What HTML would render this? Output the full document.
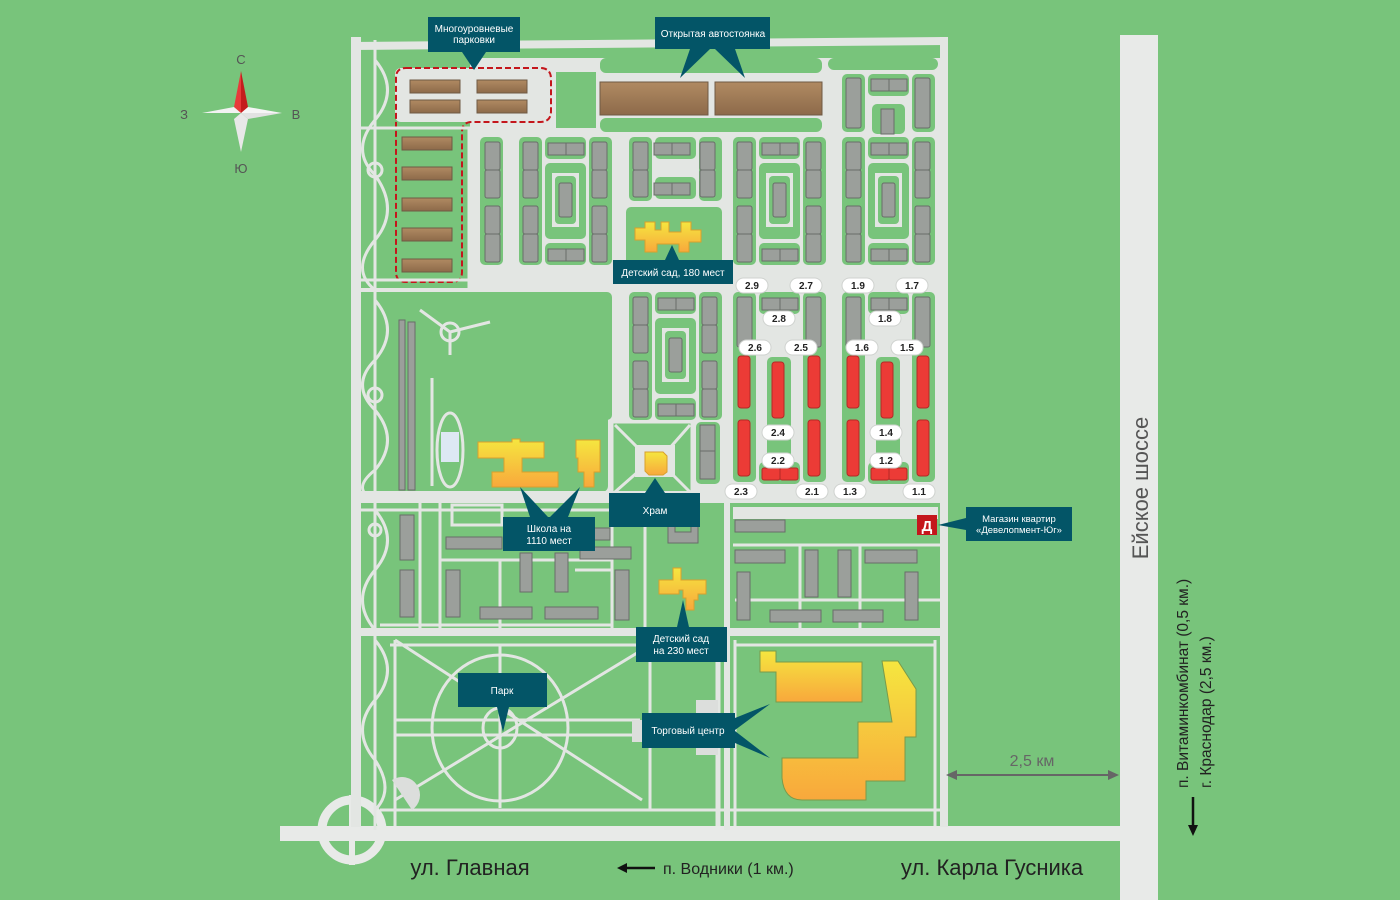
<!DOCTYPE html>
<html><head><meta charset="utf-8">
<style>
html,body{margin:0;padding:0;background:#78c47b;}
svg{display:block;}
text{font-family:"Liberation Sans",sans-serif;}
</style></head>
<body>
<svg width="1400" height="900" viewBox="0 0 1400 900" xmlns="http://www.w3.org/2000/svg">
<defs>
<linearGradient id="yel" x1="0" y1="0" x2="0" y2="1"><stop offset="0" stop-color="#f5e63f"/><stop offset="1" stop-color="#f8a83c"/></linearGradient>
<linearGradient id="brn" x1="0" y1="0" x2="0" y2="1"><stop offset="0" stop-color="#b08a62"/><stop offset="1" stop-color="#8d6a4a"/></linearGradient>
<g id="modB">
 <rect x="0" y="0" width="23" height="128" rx="5" fill="#78c47b"/>
 <rect x="4" y="5" width="15" height="28" rx="2" class="h"/><rect x="4" y="33" width="15" height="28" rx="2" class="h"/>
 <rect x="4" y="69" width="15" height="28" rx="2" class="h"/><rect x="4" y="97" width="15" height="28" rx="2" class="h"/>
 <rect x="26" y="0" width="41" height="22" rx="5" fill="#78c47b"/>
 <rect x="29" y="6" width="18" height="12" class="h"/><rect x="47" y="6" width="18" height="12" class="h"/>
 <rect x="26" y="26" width="41" height="76" rx="5" fill="#78c47b"/>
 <rect x="33" y="36" width="27" height="54" fill="#e3e6e3"/>
 <rect x="36" y="39" width="21" height="48" rx="4" fill="#78c47b"/>
 <rect x="40" y="46" width="13" height="34" rx="2" class="h"/>
 <rect x="26" y="106" width="41" height="22" rx="5" fill="#78c47b"/>
 <rect x="29" y="112" width="18" height="12" class="h"/><rect x="47" y="112" width="18" height="12" class="h"/>
 <rect x="70" y="0" width="23" height="128" rx="5" fill="#78c47b"/>
 <rect x="73" y="5" width="15" height="28" rx="2" class="h"/><rect x="73" y="33" width="15" height="28" rx="2" class="h"/>
 <rect x="73" y="69" width="15" height="28" rx="2" class="h"/><rect x="73" y="97" width="15" height="28" rx="2" class="h"/>
</g>
<g id="colA">
 <rect x="0" y="0" width="23" height="128" rx="5" fill="#78c47b"/>
 <rect x="5" y="5" width="15" height="28" rx="2" class="h"/><rect x="5" y="33" width="15" height="28" rx="2" class="h"/>
 <rect x="5" y="69" width="15" height="28" rx="2" class="h"/><rect x="5" y="97" width="15" height="28" rx="2" class="h"/>
</g>
<g id="redQ">
 <rect x="0" y="0" width="23" height="128" rx="5" fill="#78c47b"/>
 <rect x="4" y="5" width="15" height="50" rx="2" class="h"/>
 <rect x="26" y="0" width="41" height="22" rx="5" fill="#78c47b"/>
 <rect x="29" y="6" width="18" height="12" class="h"/><rect x="47" y="6" width="18" height="12" class="h"/>
 <rect x="70" y="0" width="23" height="128" rx="5" fill="#78c47b"/>
 <rect x="73" y="5" width="15" height="50" rx="2" class="h"/>
 <rect x="0" y="60" width="23" height="130" rx="5" fill="#78c47b"/>
 <rect x="70" y="60" width="23" height="130" rx="5" fill="#78c47b"/>
 <rect x="34" y="65" width="24" height="125" rx="5" fill="#78c47b"/>
 <rect x="26" y="170" width="41" height="22" rx="5" fill="#78c47b"/>
 <rect x="5" y="64" width="12" height="52" rx="3" class="r"/>
 <rect x="5" y="128" width="12" height="56" rx="3" class="r"/>
 <rect x="39" y="70" width="12" height="56" rx="3" class="r"/>
 <rect x="75" y="64" width="12" height="52" rx="3" class="r"/>
 <rect x="75" y="128" width="12" height="56" rx="3" class="r"/>
 <rect x="29" y="176" width="18" height="12" rx="2" class="r"/><rect x="47" y="176" width="18" height="12" rx="2" class="r"/>
</g>
</defs>
<style>.h{fill:#9b9f9b;stroke:#686d68;stroke-width:1}.r{fill:#ec3b36;stroke:#b42a26;stroke-width:1}.lab{fill:#035567}.wt{fill:#fff;font-size:10px;text-anchor:middle}.pl{fill:#fff;stroke:#cfd2cf}.pt{font-size:10px;font-weight:bold;text-anchor:middle;fill:#222}</style>

<rect width="1400" height="900" fill="#78c47b"/>

<rect x="1120" y="35" width="38" height="865" fill="#e8eae8"/>
<rect x="280" y="826" width="840" height="15" fill="#e8eae8"/>
<circle cx="352" cy="830" r="30" fill="none" stroke="#e8eae8" stroke-width="9"/>
<rect x="349" y="795" width="6" height="70" fill="#e8eae8"/>
<rect x="351" y="37" width="10" height="790" fill="#e3e6e3"/>
<rect x="940" y="37" width="8" height="790" fill="#e3e6e3"/>
<polygon points="351,42 945,37 945,45 351,50" fill="#e3e6e3"/>

<rect x="470" y="128" width="470" height="372" fill="#e3e6e3"/>
<rect x="470" y="58" width="470" height="70" fill="#e3e6e3"/>
<rect x="600" y="58" width="222" height="15" rx="6" fill="#78c47b"/>
<rect x="828" y="58" width="110" height="12" rx="6" fill="#78c47b"/>
<rect x="600" y="118" width="222" height="14" rx="6" fill="#78c47b"/>
<rect x="556" y="72" width="40" height="56" fill="#78c47b"/>
<rect x="834" y="72" width="104" height="56" fill="#e3e6e3"/>
<rect x="600" y="82" width="108" height="33" fill="url(#brn)" stroke="#6f5a44"/>
<rect x="715" y="82" width="107" height="33" fill="url(#brn)" stroke="#6f5a44"/>

<g transform="translate(842,74)">
 <rect x="0" y="0" width="23" height="58" rx="5" fill="#78c47b"/>
 <rect x="4" y="4" width="15" height="50" rx="2" class="h"/>
 <rect x="26" y="0" width="41" height="22" rx="5" fill="#78c47b"/>
 <rect x="29" y="5" width="18" height="12" class="h"/><rect x="47" y="5" width="18" height="12" class="h"/>
 <rect x="30" y="30" width="33" height="30" rx="5" fill="#78c47b"/>
 <rect x="39" y="35" width="13" height="25" class="h"/>
 <rect x="70" y="0" width="23" height="58" rx="5" fill="#78c47b"/>
 <rect x="73" y="4" width="15" height="50" rx="2" class="h"/>
</g>

<use href="#colA" x="480" y="137"/>
<use href="#modB" x="519" y="137"/>
<use href="#modB" x="733" y="137"/>
<use href="#modB" x="842" y="137"/>
<g transform="translate(629,137)">
 <rect x="0" y="0" width="23" height="64" rx="5" fill="#78c47b"/>
 <rect x="4" y="5" width="15" height="28" rx="2" class="h"/><rect x="4" y="33" width="15" height="27" rx="2" class="h"/>
 <rect x="26" y="0" width="41" height="22" rx="5" fill="#78c47b"/>
 <rect x="25" y="6" width="18" height="12" class="h"/><rect x="43" y="6" width="18" height="12" class="h"/>
 <rect x="26" y="40" width="41" height="22" rx="5" fill="#78c47b"/>
 <rect x="25" y="46" width="18" height="12" class="h"/><rect x="43" y="46" width="18" height="12" class="h"/>
 <rect x="70" y="0" width="23" height="64" rx="5" fill="#78c47b"/>
 <rect x="71" y="5" width="15" height="28" rx="2" class="h"/><rect x="71" y="33" width="15" height="27" rx="2" class="h"/>
 <rect x="-3" y="70" width="96" height="60" rx="5" fill="#78c47b"/>
</g>
<path d="M645,222 h10 v8 h6 v-8 h8 v10 h12 v-10 h10 v8 h10 v12 h-12 v10 h-10 v-8 h-22 v8 h-12 v-12 h-10 v-12 h10z" fill="url(#yel)" stroke="#d9a02c"/>

<use href="#colA" x="480" y="292"/>
<use href="#modB" x="519" y="292"/>
<use href="#modB" x="629" y="292"/>
<use href="#redQ" x="733" y="292"/>
<use href="#redQ" x="842" y="292"/>
<rect x="696" y="422" width="24" height="62" rx="5" fill="#78c47b"/>
<rect x="700" y="425" width="15" height="26" class="h"/><rect x="700" y="451" width="15" height="28" class="h"/>

<rect x="362" y="55" width="108" height="235" fill="#78c47b"/>
<rect x="362" y="292" width="246" height="200" rx="6" fill="#78c47b"/>
<rect x="612" y="422" width="80" height="72" fill="#78c47b"/>
<rect x="612" y="422" width="80" height="72" fill="none" stroke="#e3e6e3" stroke-width="3"/>
<path d="M615,425 L640,450 M690,425 L668,450 M615,492 L640,470 M690,492 L668,470" stroke="#e3e6e3" stroke-width="3"/>
<rect x="635" y="445" width="40" height="32" fill="#e3e6e3"/>
<path d="M645,452 h18 l4,4 v16 l-4,3 h-14 l-4,-4z" fill="url(#yel)" stroke="#d9a02c"/>

<rect x="395" y="68" width="158" height="54" rx="6" fill="#e3e6e3"/>
<rect x="410" y="80" width="50" height="13" fill="url(#brn)" stroke="#6f5a44"/>
<rect x="410" y="100" width="50" height="13" fill="url(#brn)" stroke="#6f5a44"/>
<rect x="477" y="80" width="50" height="13" fill="url(#brn)" stroke="#6f5a44"/>
<rect x="477" y="100" width="50" height="13" fill="url(#brn)" stroke="#6f5a44"/>
<rect x="402" y="137" width="50" height="13" fill="url(#brn)" stroke="#6f5a44"/>
<rect x="402" y="167" width="50" height="13" fill="url(#brn)" stroke="#6f5a44"/>
<rect x="402" y="198" width="50" height="13" fill="url(#brn)" stroke="#6f5a44"/>
<rect x="402" y="228" width="50" height="13" fill="url(#brn)" stroke="#6f5a44"/>
<rect x="402" y="259" width="50" height="13" fill="url(#brn)" stroke="#6f5a44"/>
<path d="M406,68 H540 Q551,68 551,79 V111 Q551,122 540,122 H472 Q462,122 462,132 V272 Q462,282 452,282 H406 Q396,282 396,272 V78 Q396,68 406,68Z" fill="none" stroke="#c4161c" stroke-width="2" stroke-dasharray="6,3"/>

<g fill="none" stroke="#e3e6e3" stroke-width="3">
 <line x1="375" y1="40" x2="375" y2="830"/>
 <path d="M375,60 Q400,90 375,120 Q350,150 375,175 Q400,210 375,240 Q350,270 375,290"/>
 <path d="M375,300 Q400,330 375,360 Q350,385 375,410 Q400,440 375,470 Q350,490 375,500"/>
 <path d="M375,510 Q400,540 375,570 Q350,600 375,630"/>
 <circle cx="375" cy="170" r="7"/><circle cx="375" cy="395" r="7"/><circle cx="375" cy="530" r="6"/>
 <line x1="352" y1="290" x2="945" y2="290" stroke-width="4"/>
 <line x1="352" y1="280" x2="470" y2="280"/>
 <line x1="352" y1="497" x2="945" y2="497" stroke-width="12"/>
 <line x1="352" y1="632" x2="945" y2="632" stroke-width="8"/>
 <line x1="352" y1="128" x2="470" y2="128"/>
 <line x1="470" y1="128" x2="470" y2="290" stroke-width="5"/>
 <line x1="612" y1="500" x2="612" y2="630" stroke-width="3"/>
 <line x1="727" y1="500" x2="727" y2="830" stroke-width="6"/>
 <line x1="432" y1="378" x2="432" y2="486"/>
 <ellipse cx="450" cy="450" rx="13" ry="37"/>
 <circle cx="450" cy="332" r="9"/>
 <path d="M420,310 L450,332 L490,322 M450,332 L450,355"/>
</g>
<rect x="441" y="432" width="18" height="30" fill="#dde8f4"/>
<rect x="399" y="320" width="6" height="170" class="h"/>
<rect x="408" y="322" width="7" height="168" class="h"/>

<path d="M478,442 h34 v-3 h8 v3 h24 v16 h-22 v14 h36 v15 h-66 v-15 h12 v-14 h-26z" fill="url(#yel)" stroke="#d9a02c"/>
<path d="M576,440 h24 v32 h-6 v15 h-10 v-15 h-6 v-14 h-2z" fill="url(#yel)" stroke="#d9a02c"/>

<g fill="none" stroke="#e3e6e3" stroke-width="3">
 <line x1="352" y1="510" x2="612" y2="510"/>
 <line x1="420" y1="503" x2="420" y2="630"/>
 <line x1="440" y1="560" x2="612" y2="560"/>
 <line x1="440" y1="503" x2="440" y2="630"/>
 <line x1="500" y1="560" x2="500" y2="630"/>
 <line x1="380" y1="625" x2="612" y2="625"/>
 <line x1="575" y1="570" x2="612" y2="570"/>
 <line x1="645" y1="503" x2="645" y2="630"/>
 <line x1="733" y1="545" x2="940" y2="545"/>
 <line x1="800" y1="545" x2="800" y2="630"/>
 <line x1="860" y1="545" x2="860" y2="630"/>
 <line x1="735" y1="600" x2="940" y2="600"/>
 <rect x="452" y="505" width="50" height="20"/>
</g>
<rect x="733" y="507" width="205" height="12" fill="#e3e6e3"/>
<rect x="400" y="515" width="14" height="45" class="h"/>
<rect x="400" y="570" width="14" height="47" class="h"/>
<rect x="446" y="537" width="56" height="12" class="h"/>
<rect x="446" y="570" width="14" height="47" class="h"/>
<rect x="480" y="607" width="52" height="12" class="h"/>
<rect x="520" y="553" width="12" height="39" class="h"/>
<rect x="545" y="607" width="53" height="12" class="h"/>
<rect x="555" y="553" width="13" height="39" class="h"/>
<rect x="580" y="547" width="51" height="12" class="h"/>
<rect x="580" y="528" width="30" height="12" class="h"/>
<rect x="615" y="570" width="14" height="50" class="h"/>
<path d="M668,522 h30 v21 h-30z M675,522 v10 h16 v-10z" fill="#9b9f9b" stroke="#686d68" fill-rule="evenodd"/>
<path d="M673,568 h8 v12 h25 v14 h-8 v6 h-4 v10 h-8 v-12 h-3 v-8 h-4 v4 h-20 v-14 h14z" fill="url(#yel)" stroke="#d9a02c"/>
<rect x="735" y="520" width="50" height="12" class="h"/>
<rect x="735" y="550" width="50" height="13" class="h"/>
<rect x="737" y="572" width="13" height="48" class="h"/>
<rect x="770" y="610" width="51" height="12" class="h"/>
<rect x="805" y="550" width="13" height="47" class="h"/>
<rect x="838" y="550" width="13" height="47" class="h"/>
<rect x="833" y="610" width="50" height="12" class="h"/>
<rect x="865" y="550" width="52" height="13" class="h"/>
<rect x="905" y="572" width="13" height="48" class="h"/>

<g fill="none" stroke="#e3e6e3" stroke-width="3">
 <ellipse cx="500" cy="728" rx="68" ry="73"/>
 <ellipse cx="500" cy="728" rx="17" ry="20"/>
 <line x1="395" y1="640" x2="642" y2="800"/>
 <line x1="395" y1="800" x2="642" y2="650"/>
 <line x1="500" y1="645" x2="500" y2="808"/>
 <line x1="395" y1="720" x2="640" y2="720"/>
 <line x1="395" y1="735" x2="640" y2="735"/>
 <line x1="390" y1="645" x2="640" y2="645"/>
 <line x1="380" y1="810" x2="940" y2="810"/>
 <line x1="395" y1="640" x2="395" y2="826"/>
 <line x1="650" y1="640" x2="650" y2="810"/>
 <line x1="718" y1="640" x2="718" y2="826" stroke-width="5"/>
 <line x1="735" y1="645" x2="935" y2="645"/>
 <line x1="935" y1="640" x2="935" y2="826"/>
 <line x1="735" y1="640" x2="735" y2="826"/>
 <path d="M375,640 Q400,670 375,700 Q350,730 375,760 Q395,790 375,810"/>
</g>
<path d="M392,780 a18,18 0 0 1 20,30 z" fill="#dcdedc"/>
<rect x="632" y="720" width="12" height="22" fill="#dcdedc"/>
<rect x="696" y="700" width="22" height="55" fill="#dcdedc"/>

<path d="M760,651 h16 v11 h86 v40 h-86 v-30 h-16z" fill="url(#yel)" stroke="#7a9a4a"/>
<path d="M882,661 h16 l18,28 v48 h-11 v44 h-39 v19 h-64 q-18,0 -20,-22 v-20 h76 v-36 h34z" fill="url(#yel)" stroke="#7a9a4a"/>

<g class="lab">
 <rect x="428" y="17" width="92" height="35"/><polygon points="462,52 486,52 474,70"/>
 <rect x="655" y="17" width="115" height="32"/><polygon points="690,49 710,49 680,78"/><polygon points="715,49 735,49 745,78"/>
 <rect x="613" y="260" width="120" height="24"/><polygon points="665,260 679,260 672,245"/>
 <rect x="503" y="517" width="92" height="34"/><polygon points="530,517 548,517 520,487"/><polygon points="550,517 568,517 580,487"/>
 <rect x="609" y="493" width="91" height="34"/><polygon points="645,493 665,493 655,478"/>
 <rect x="636" y="627" width="91" height="35"/><polygon points="677,627 689,627 683,600"/>
 <rect x="458" y="673" width="89" height="34"/><polygon points="497,707 509,707 503,732"/>
 <rect x="642" y="713" width="93" height="35"/><polygon points="735,718 735,730 770,704"/><polygon points="735,731 735,743 770,758"/>
 <rect x="966" y="507" width="106" height="34"/><polygon points="966,518 966,530 938,525"/>
</g>
<g class="wt">
 <text x="474" y="32">Многоуровневые</text><text x="474" y="43">парковки</text>
 <text x="713" y="37">Открытая автостоянка</text>
 <text x="673" y="276">Детский сад, 180 мест</text>
 <text x="549" y="532">Школа на</text><text x="549" y="544">1110 мест</text>
 <text x="655" y="514">Храм</text>
 <text x="681" y="642">Детский сад</text><text x="681" y="654">на 230 мест</text>
 <text x="502" y="694">Парк</text>
 <text x="688" y="734">Торговый центр</text>
 <text x="1019" y="522" font-size="9.5">Магазин квартир</text><text x="1019" y="533" font-size="9.5">«Девелопмент-Юг»</text>
</g>
<rect x="917" y="515" width="20" height="20" fill="#c4161c"/>
<text x="927" y="531" font-size="15" font-weight="bold" fill="#fff" text-anchor="middle">Д</text>

<g>
 <rect x="736" y="278" width="32" height="15" rx="7.5" class="pl"/><text x="752" y="289" class="pt">2.9</text>
 <rect x="790" y="278" width="32" height="15" rx="7.5" class="pl"/><text x="806" y="289" class="pt">2.7</text>
 <rect x="842" y="278" width="32" height="15" rx="7.5" class="pl"/><text x="858" y="289" class="pt">1.9</text>
 <rect x="896" y="278" width="32" height="15" rx="7.5" class="pl"/><text x="912" y="289" class="pt">1.7</text>
 <rect x="763" y="311" width="32" height="15" rx="7.5" class="pl"/><text x="779" y="322" class="pt">2.8</text>
 <rect x="869" y="311" width="32" height="15" rx="7.5" class="pl"/><text x="885" y="322" class="pt">1.8</text>
 <rect x="739" y="340" width="32" height="15" rx="7.5" class="pl"/><text x="755" y="351" class="pt">2.6</text>
 <rect x="785" y="340" width="32" height="15" rx="7.5" class="pl"/><text x="801" y="351" class="pt">2.5</text>
 <rect x="846" y="340" width="32" height="15" rx="7.5" class="pl"/><text x="862" y="351" class="pt">1.6</text>
 <rect x="891" y="340" width="32" height="15" rx="7.5" class="pl"/><text x="907" y="351" class="pt">1.5</text>
 <rect x="762" y="425" width="32" height="15" rx="7.5" class="pl"/><text x="778" y="436" class="pt">2.4</text>
 <rect x="870" y="425" width="32" height="15" rx="7.5" class="pl"/><text x="886" y="436" class="pt">1.4</text>
 <rect x="762" y="453" width="32" height="15" rx="7.5" class="pl"/><text x="778" y="464" class="pt">2.2</text>
 <rect x="870" y="453" width="32" height="15" rx="7.5" class="pl"/><text x="886" y="464" class="pt">1.2</text>
 <rect x="725" y="484" width="32" height="15" rx="7.5" class="pl"/><text x="741" y="495" class="pt">2.3</text>
 <rect x="796" y="484" width="32" height="15" rx="7.5" class="pl"/><text x="812" y="495" class="pt">2.1</text>
 <rect x="834" y="484" width="32" height="15" rx="7.5" class="pl"/><text x="850" y="495" class="pt">1.3</text>
 <rect x="903" y="484" width="32" height="15" rx="7.5" class="pl"/><text x="919" y="495" class="pt">1.1</text>
</g>

<polygon points="241,113 202,113 234,107" fill="#f2f2f2"/>
<polygon points="241,113 282,113 248,119" fill="#e2e2e2"/>
<polygon points="241,113 248,119 241,152 234,119" fill="#e8e8e8"/>
<polygon points="241,113 234,107 241,102 248,107 282,113" fill="#f5f5f5"/>
<polygon points="241,71 234,107 241,113" fill="#e83a3a"/>
<polygon points="241,71 248,107 241,113" fill="#c41d1d"/>
<g font-size="13" fill="#555" text-anchor="middle"><text x="241" y="64">С</text><text x="184" y="119">З</text><text x="296" y="119">В</text><text x="241" y="173">Ю</text></g>

<text x="470" y="875" font-size="22" fill="#222" text-anchor="middle">ул. Главная</text>
<line x1="625" y1="868" x2="655" y2="868" stroke="#111" stroke-width="2.5"/><polygon points="617,868 627,863 627,873" fill="#111"/>
<text x="663" y="874" font-size="16" fill="#222">п. Водники (1 км.)</text>
<text x="992" y="875" font-size="22" fill="#222" text-anchor="middle">ул. Карла Гусника</text>
<text transform="translate(1148,488) rotate(-90)" font-size="22" fill="#555" text-anchor="middle">Ейское шоссе</text>
<text transform="translate(1188,788) rotate(-90)" font-size="15.5" fill="#222">п. Витаминкомбинат (0,5 км.)</text>
<text transform="translate(1211,788) rotate(-90)" font-size="15.5" fill="#222">г. Краснодар (2,5 км.)</text>
<line x1="1193" y1="797" x2="1193" y2="826" stroke="#111" stroke-width="2.5"/><polygon points="1193,836 1188,825 1198,825" fill="#111"/>
<text x="1032" y="766" font-size="16" fill="#666" text-anchor="middle">2,5 км</text>
<line x1="955" y1="775" x2="1110" y2="775" stroke="#666" stroke-width="2"/>
<polygon points="946,775 957,770 957,780" fill="#666"/><polygon points="1119,775 1108,770 1108,780" fill="#666"/>
</svg>
</body></html>
